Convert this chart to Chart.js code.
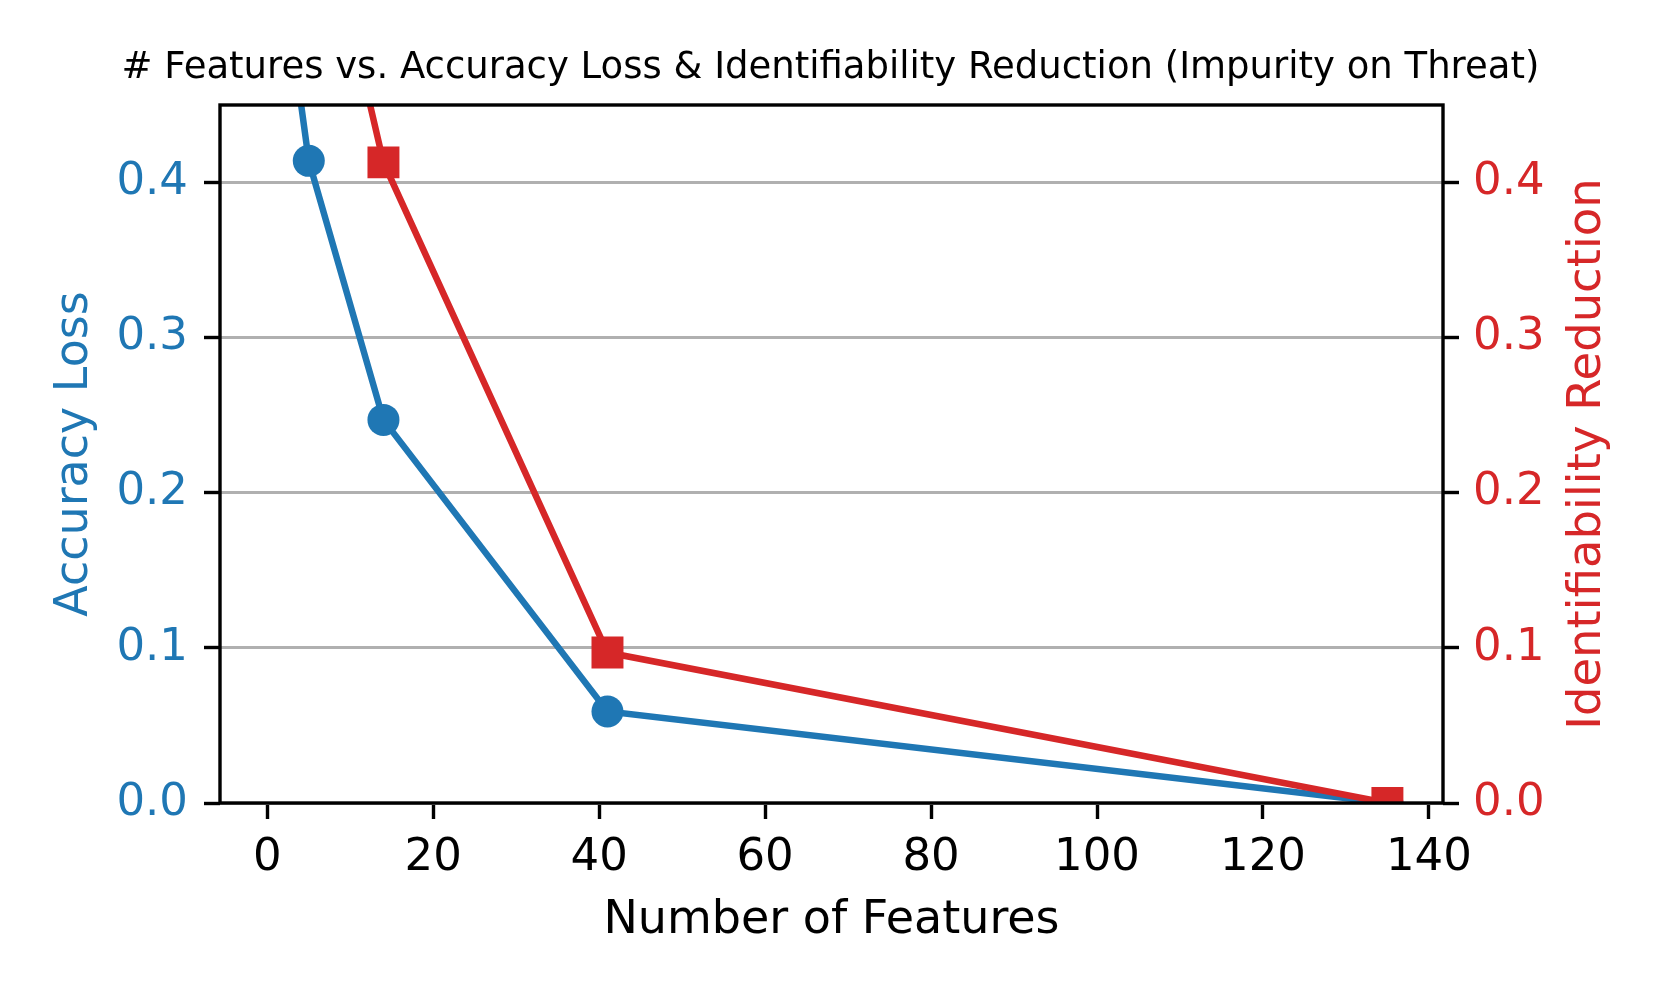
<!DOCTYPE html>
<html>
<head>
<meta charset="utf-8">
<script src="https://cdn.jsdelivr.net/npm/chart.js@4/dist/chart.umd.min.js"></script>
<style>
  html, body { margin: 0; padding: 0; background: #fff; }
  #wrap { width: 1661px; height: 997px; }
</style>
</head>
<body>
<div id="wrap"><canvas id="chartCanvas" width="1661" height="997"></canvas></div>
<script>
// data
let features = [1, 5, 14, 41, 135];
let accuracyLoss = [0.571, 0.414, 0.247, 0.059, 0.0];
let identReduction = [0.75, 0.62, 0.413, 0.097, 0.0];

let xTicks = [0, 20, 40, 60, 80, 100, 120, 140];
let yTicks = [0.0, 0.1, 0.2, 0.3, 0.4];

let blue = '#1f77b4';
let red = '#d62728';
let fontFamily = '"DejaVu Sans", sans-serif';

let toPoints = function (ys) {
    return features.map(function (x, i) { return { x: x, y: ys[i] }; });
};

let setTicks = function (values) {
    return function (scale) {
        scale.ticks = values.map(function (v) { return { value: v }; });
    };
};

// matplotlib style frame + right axis label (reads bottom to top)
let framePlugin = {
    id: 'frame',
    afterDatasetsDraw: function (chart) {
        let a = chart.chartArea;
        let ctx = chart.ctx;
        ctx.save();
        ctx.strokeStyle = '#000';
        ctx.lineWidth = 3.4;
        ctx.strokeRect(a.left, a.top, a.right - a.left, a.bottom - a.top);
        ctx.restore();
    },
    afterDraw: function (chart) {
        let a = chart.chartArea;
        let ctx = chart.ctx;
        ctx.save();
        ctx.translate(1588, (a.top + a.bottom) / 2);
        ctx.rotate(-Math.PI / 2);
        ctx.fillStyle = red;
        ctx.font = '46.5px ' + fontFamily;
        ctx.textAlign = 'center';
        ctx.textBaseline = 'middle';
        ctx.fillText('Identifiability Reduction', 0, 0);
        ctx.restore();
    }
};

let ctx = document.getElementById('chartCanvas').getContext('2d');

window.featChart = new Chart(ctx, {
    type: 'line',
    data: {
        datasets: [{
            label: 'Accuracy Loss',
            data: toPoints(accuracyLoss),
            yAxisID: 'y',
            order: 2,
            borderColor: blue,
            backgroundColor: blue,
            borderWidth: 6.5,
            pointStyle: 'circle',
            pointRadius: 16,
            pointBorderWidth: 0,
            pointHoverRadius: 16,
            clip: 0
        }, {
            label: 'Identifiability Reduction',
            data: toPoints(identReduction),
            yAxisID: 'y2',
            order: 1,
            borderColor: red,
            backgroundColor: red,
            borderWidth: 6.5,
            pointStyle: 'rect',
            pointRadius: 22.6,
            pointBorderWidth: 0,
            pointHoverRadius: 22.6,
            clip: 0
        }]
    },
    options: {
        responsive: false,
        animation: false,
        events: [],
        layout: { padding: 0 },
        plugins: {
            legend: { display: false },
            tooltip: { enabled: false },
            title: {
                display: true,
                text: '# Features vs. Accuracy Loss & Identifiability Reduction (Impurity on Threat)',
                color: '#000',
                font: { family: fontFamily, size: 37, weight: 'normal', lineHeight: 1.2 },
                padding: { top: 46, bottom: 14.6 }
            }
        },
        scales: {
            x: {
                type: 'linear',
                min: -5.7,
                max: 141.7,
                afterBuildTicks: setTicks(xTicks),
                afterFit: function (scale) { scale.height = 194; },
                border: { display: false },
                grid: {
                    drawOnChartArea: false,
                    drawTicks: true,
                    tickLength: 16,
                    tickColor: '#000',
                    tickWidth: 3.4
                },
                ticks: {
                    color: '#000',
                    padding: 12,
                    maxRotation: 0,
                    font: { family: fontFamily, size: 45 },
                    callback: function (v) { return String(v); }
                },
                title: {
                    display: true,
                    text: 'Number of Features',
                    color: '#000',
                    font: { family: fontFamily, size: 46, lineHeight: 1.2 },
                    padding: { top: 0, bottom: 48 }
                }
            },
            y: {
                position: 'left',
                min: 0,
                max: 0.45,
                afterBuildTicks: setTicks(yTicks),
                afterFit: function (scale) { scale.width = 220; },
                border: { display: false },
                grid: {
                    color: '#b0b0b0',
                    lineWidth: 3,
                    drawTicks: true,
                    tickLength: 16,
                    tickColor: '#000',
                    tickWidth: 3.4
                },
                ticks: {
                    color: blue,
                    padding: 16,
                    font: { family: fontFamily, size: 45 },
                    callback: function (v) { return v.toFixed(1); }
                },
                title: {
                    display: true,
                    text: 'Accuracy Loss',
                    color: blue,
                    font: { family: fontFamily, size: 46, lineHeight: 1.2 },
                    padding: { top: 47, bottom: 0 }
                }
            },
            y2: {
                position: 'right',
                min: 0,
                max: 0.45,
                afterBuildTicks: setTicks(yTicks),
                afterFit: function (scale) { scale.width = 218; },
                border: { display: false },
                grid: {
                    drawOnChartArea: false,
                    drawTicks: true,
                    tickLength: 16,
                    tickColor: '#000',
                    tickWidth: 3.4
                },
                ticks: {
                    color: red,
                    padding: 14,
                    font: { family: fontFamily, size: 45 },
                    callback: function (v) { return v.toFixed(1); }
                }
            }
        }
    },
    plugins: [framePlugin]
});
</script>
</body>
</html>
